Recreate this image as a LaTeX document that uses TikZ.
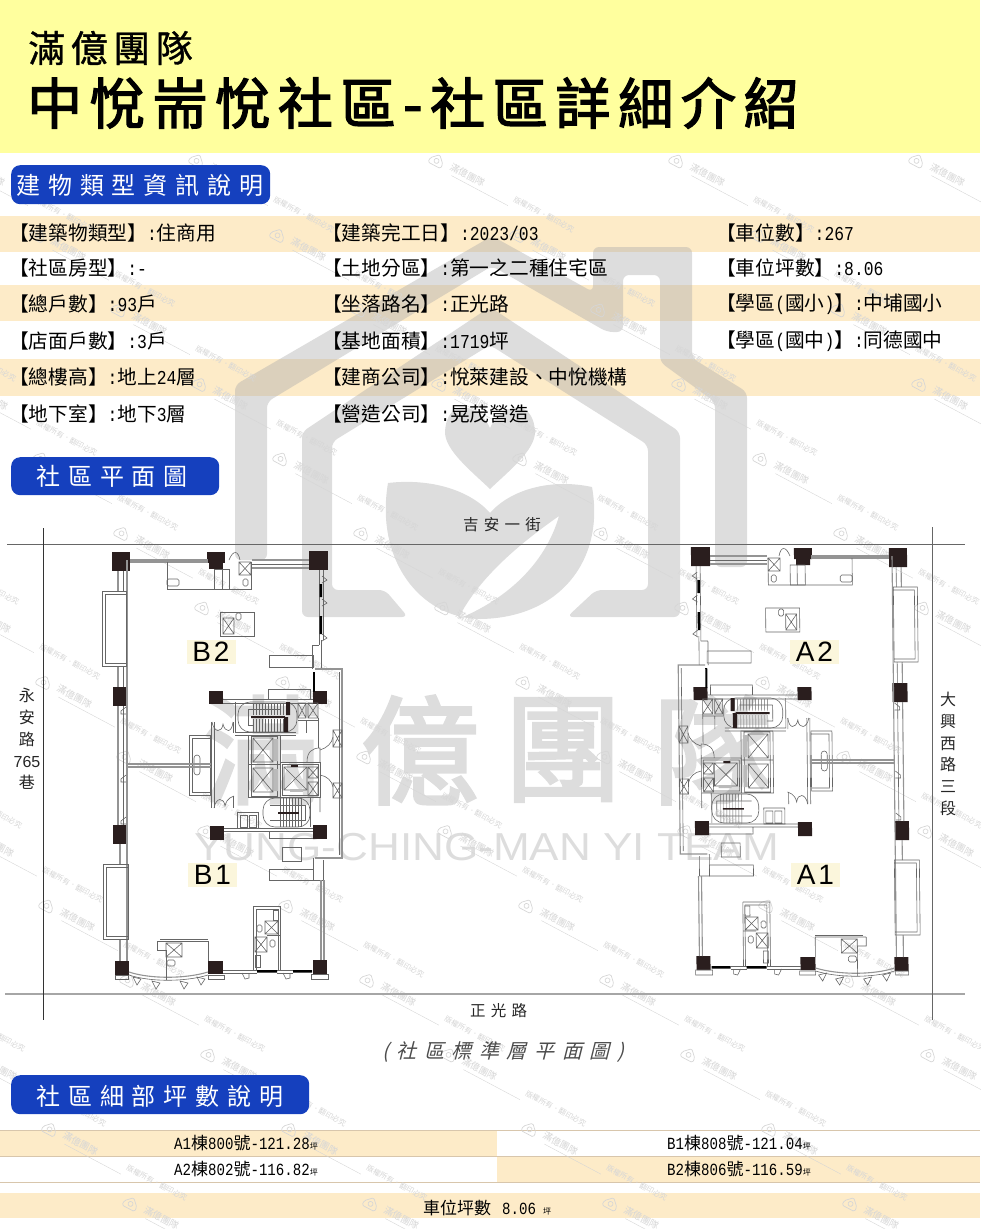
\documentclass[tikz,border=0pt]{standalone}
\usepackage{fontspec}
\setmainfont{Noto Sans CJK TC}
\newfontfamily\cjk{Noto Sans CJK TC}
\newfontfamily\lat[FakeStretch=0.83]{Liberation Mono}
\newfontfamily\arial{Liberation Sans}
\newfontfamily\widearial[FakeStretch=1.13]{Liberation Sans}
\usetikzlibrary{positioning}

\definecolor{headyellow}{HTML}{FFFF9E}
\definecolor{rowbeige}{HTML}{FDEBC8}
\definecolor{pillblue}{HTML}{1540BE}
\definecolor{tagcream}{HTML}{FBF6DC}
\definecolor{ruleline}{HTML}{D8C6AC}
\definecolor{logogray}{gray}{0.68}
\definecolor{markgray}{gray}{0.865}
\definecolor{wmgray}{gray}{0.84}
\definecolor{planline}{HTML}{666666}
\definecolor{pillarfill}{HTML}{2A1E1E}

\newcommand{\fsz}[1]{\fontsize{#1}{#1}\selectfont}
\newcommand{\lsp}[1]{\addfontfeature{LetterSpace=#1}}
\newcommand{\m}[1]{{\lat #1}}

\tikzset{
  info/.style={anchor=west,inner sep=0pt,font=\fsz{19.7}},
  sized/.style={anchor=west,inner sep=0pt,font=\fsz{17}},
  pill/.style={anchor=north west,fill=pillblue,rounded corners=9pt,inner sep=0pt},
  pilltext/.style={anchor=west,inner sep=0pt,text=white,font=\fsz{24}\lsp{33}},
  roadtext/.style={anchor=west,inner sep=0pt,text=black!85,font=\fsz{15.5}\lsp{34}},
  roadstack/.style={inner sep=0pt,align=center,text=black!85,font=\fontsize{16}{21.8}\selectfont},
  tag/.style={fill=tagcream,minimum width=49pt,minimum height=24pt,inner sep=0pt,font=\arial\fsz{28}\lsp{10}},
  wall/.style={draw=planline,line width=0.6pt},
  wallg/.style={draw=planline!70,line width=1.1pt},
  bigmark/.style={inner sep=0pt,text=markgray},
  wmtext/.style={inner sep=0pt,text=wmgray,transform shape}
}

% small parts of the plan
\newcommand{\pillar}[4]{\fill[pillarfill] (#1,#2) rectangle (#3,#4);}
\newcommand{\crossbox}[4]{\draw[wall] (#1,#2) rectangle (#3,#4) (#1,#2) -- (#3,#4) (#1,#4) -- (#3,#2);}
\newcommand{\loo}[2]{\draw[wall,rounded corners=1.5pt] (#1,#2) rectangle ++(5,7);}
\newcommand{\doorh}[2]{\draw[wall] (#1,#2) -- ++(3,6) -- ++(4,-1) -- ++(0,-5);}

\newcommand{\floorplan}{
  % pillars
  \pillar{112}{552}{130}{571} \pillar{207}{552}{225}{563} \pillar{209}{563}{223}{569}
  \pillar{309}{551}{328}{570} \pillar{113}{687}{128}{706} \pillar{209}{691}{223}{704}
  \pillar{313}{691}{327}{704} \pillar{113}{825}{127}{844} \pillar{210}{826}{224}{840}
  \pillar{313}{825}{327}{839} \pillar{115}{961}{129}{975} \pillar{208}{961}{223}{974}
  \pillar{313}{960}{327}{974}
  % outer walls
  \draw[wallg] (127,560) -- (127,961);
  \draw[wallg] (118,571) -- (118,591) (118,666) -- (118,687) (118,706) -- (118,825) (120,844) -- (120,864) (120,939) -- (120,961);
  \draw[wall] (123,571) -- (123,591) (123,666) -- (123,687) (123,706) -- (123,825);
  \draw[wallg] (130,560) -- (208,560) (130,562) -- (208,562) (252,560) -- (309,560) (252,568) -- (309,568);
  \draw[wall] (252,564) -- (309,564);
  \draw[wall] (102,591) rectangle (126,666) (105,594) rectangle (126,663);
  \draw[wall] (103,864) rectangle (128,939) (106,867) rectangle (128,936);
  % top rooms
  \draw[wall] (167,562) -- (167,589) -- (251,589) -- (251,562);
  \draw[wall] (214,569) rectangle (229,589) (222,569) -- (222,589);
  \crossbox{239}{562}{251}{575} \draw[wall,rounded corners=1.5pt] (167,579) rectangle (179,586);
  \loo{243}{579} \draw[wall] (229,560) .. controls (233,550) and (238,550) .. (240,560);
  \draw[wall] (220,612) rectangle (254,636);
  \crossbox{223}{618}{234}{634} \loo{236}{613}
  % right wall with its glass
  \draw[wall] (319,570) -- (319,645) (323,570) -- (323,640);
  \fill[black] (319.5,584) rectangle (322,597) (319.5,616) rectangle (322,634);
  \foreach \dy in {576,599,634} {\draw[wall] (322,\dy) -- (327,{\dy+4}) -- (322,{\dy+7});}
  \draw[wall] (312,645) -- (319,645) (312,645) -- (312,669) (321,640) -- (321,669);
  \fill[black] (313,672) rectangle (315,692);
  \draw[wallg] (315,669) -- (342,669) -- (342,858) -- (315,858);
  \draw[wall] (339,672) -- (339,855);
  \draw[wall] (269,655) rectangle (313,667) (269,869) rectangle (313,880);
  \draw[wall] (313,858) -- (313,880) (323,860) -- (323,880) (313,880) -- (323,880);
  \draw[wallg] (321,880) -- (321,960) (324,880) -- (324,960);
  % beams between pillars
  \draw[wall] (223,699) -- (313,699) (223,703) -- (313,703) (268,699) -- (268,689) -- (310,689) -- (310,699);
  \draw[wall] (224,828) -- (313,828) (224,831) -- (313,831) (269,831) -- (269,838) -- (313,838);
  \draw[wall] (282,847) rectangle (301,861);
  % upper stair
  \draw[wall,rounded corners=12pt] (238,702) rectangle (297,732);
  \draw[wall] (235,702) -- (235,732) -- (296,732) (235,735) -- (296,735);
  \draw[wall] (248,709) -- (281,709) (248,709) -- (248,725) -- (254,725);
  \foreach \t in {0,...,11} {\draw[wall,line width=0.4pt] ({253+3*\t},703) -- ++(0,12) ({253+3*\t},719) -- ++(0,13);}
  \fill[pillarfill] (251,716) rectangle (285,718) (286,702) rectangle (290,715) (284,717) rectangle (288,732);
  \crossbox{298}{703}{306}{718} \crossbox{308}{703}{318}{718}
  \draw[wall] (298,720) -- (318,720) (306,720) -- (306,733) (318,718) -- (318,748);
  % lifts
  \draw[wall] (248,735) rectangle (280,797) (251,736) rectangle (277,796) (248,764) -- (280,764);
  \crossbox{253}{738}{273}{762} \crossbox{253}{768}{273}{792}
  \fill[planline!45] (274,739) rectangle (278,761) (274,769) rectangle (278,791);
  \draw[wall] (280,762) rectangle (320,797) (282,764) rectangle (318,795);
  \crossbox{284}{767}{307}{790} \crossbox{308}{767}{318}{778} \crossbox{308}{782}{318}{796}
  \fill[pillarfill] (291,765) rectangle (298,767);
  \fill[planline!45] (290,789) rectangle (303,792);
  \draw[wall] (307,762) .. controls (307,752) and (312,748) .. (320,748) -- (320,762);
  \draw[wall] (320,797) -- (320,812) (320,775) .. controls (327,776) and (332,781) .. (333,787);
  \draw[wall] (320,750) .. controls (327,748) and (332,743) .. (333,737);
  \crossbox{333}{730}{342}{747} \crossbox{333}{783}{342}{798}
  % lobby doors and toilet room
  \draw[wall] (211,722) -- (211,808) (214,722) -- (214,808) (233,722) -- (233,733) (233,796) -- (233,808);
  \draw[wall] (212,722) .. controls (214,733) and (222,733) .. (223,724) .. controls (225,733) and (232,733) .. (233,722);
  \draw[wall] (214,808) .. controls (216,797) and (224,797) .. (225,806) .. controls (227,797) and (233,797) .. (234,796);
  \draw[wall] (189,735) rectangle (210,795) (192,738) rectangle (210,792);
  \draw[wall,rounded corners=3pt] (194,755) rectangle (200,775);
  \draw[wallg] (127,764) -- (211,764) (127,767) -- (211,767);
  % lower stair
  \draw[wall,rounded corners=12pt] (263,798) rectangle (310,827);
  \draw[wall] (310,797) -- (310,827) (270,805) -- (305,805) -- (305,820) -- (270,820);
  \foreach \t in {0,...,7} {\draw[wall,line width=0.4pt] ({280+3*\t},798) -- ++(0,29);}
  \fill[pillarfill] (278,812) rectangle (299,813.5);
  \draw[wall] (237,812) rectangle (258,828) (240,815) rectangle (247,827) (249,815) rectangle (256,827);
  % bottom wall, doors and curved glass
  \draw[wall] (223,970) -- (257,970) (223,973) -- (257,973) (277,970) -- (293,970) (277,973) -- (293,973);
  \fill[black] (257,970) rectangle (277,972.5) (293,970) rectangle (312,972.5);
  \doorh{242}{973} \doorh{283}{973}
  \draw[wall] (115,975) rectangle (128,979) (208,975) rectangle (224,979) (311,974) rectangle (328,979);
  \draw[wallg] (129,972) .. controls (150,979) and (185,979) .. (208,972);
  \draw[wall] (129,975) .. controls (150,982) and (185,982) .. (208,975);
  \foreach \gx/\gy in {133/977,152/981,180/981,197/977} {\draw[wall] (\gx,\gy) -- ++(8,2) -- ++(-4,6) -- cycle;}
  \draw[wall] (157,941) -- (208,941) -- (208,961) (157,941) -- (157,950) -- (166,950) -- (166,980);
  \draw[wall] (160,939) -- (208,939);
  \crossbox{166}{943}{182}{957} \draw[wall,rounded corners=1.5pt] (167,960) rectangle (175,966);
  % toilet block
  \draw[wall] (253,906) -- (253,970) (280,906) -- (280,970) (253,906) -- (280,906) (256,909) -- (278,909) (256,909) -- (256,970) (278,909) -- (278,970);
  \crossbox{265}{921}{278}{934} \crossbox{255}{937}{267}{952}
  \draw[wall] (273,910) rectangle (278,920) (255,955) rectangle (260,967) (267,935) -- (280,935);
  \loo{257}{925} \loo{270}{940}
  % little doors of the left wall
  \foreach \dy in {707,775,817} {\draw[wall] (126,\dy) -- (121,{\dy+4}) -- (121,{\dy+7}) -- (126,{\dy+7});}
}

\begin{document}
\begin{tikzpicture}[x=1pt,y=-1pt]
  \useasboundingbox (0,0) rectangle (980,1229);

  % rows
  \foreach \ya/\yb in {216/252,285/321,359/396} {\fill[rowbeige] (0,\ya) rectangle (980,\yb);}
  \fill[rowbeige] (0,1131) rectangle (497,1156);
  \fill[rowbeige] (497,1157) rectangle (980,1182);
  \fill[rowbeige] (0,1193) rectangle (980,1218);
  \draw[ruleline] (0,1130.5) -- (980,1130.5) (0,1156.5) -- (980,1156.5) (0,1182.5) -- (980,1182.5);

  % big logo behind the sheet
  \fill[logogray,opacity=0.42,rounded corners=6pt] (235,560) -- (235,385) -- (492,236) -- (593,292) -- (593,247) -- (692,247) -- (692,358) -- (747,392) -- (747,567) -- (715,567) -- (715,402) -- (660,362) -- (660,275) -- (623,275) -- (623,332) -- (607,332) -- (492,266) -- (267,402) -- (267,560) -- cycle;
  \fill[logogray,opacity=0.42,rounded corners=6pt] (302,617) -- (302,432) -- (490,307) -- (680,432) -- (680,617) -- (567,617) -- (596,590) -- (648,590) -- (648,445) -- (490,345) -- (332,442) -- (332,590) -- (385,590) -- (408,617) -- cycle;
  \fill[logogray,opacity=0.42] (490,428) .. controls (480,405) and (447,395) .. (445,432) .. controls (445,450) and (470,470) .. (490,489) .. controls (510,470) and (535,450) .. (535,432) .. controls (533,395) and (500,405) .. (490,428) -- cycle;
  \fill[logogray,opacity=0.42,even odd rule] (388,483) .. controls (430,478) and (470,490) .. (490,513) .. controls (510,490) and (550,478) .. (592,487) .. controls (605,560) and (560,618) .. (480,619) .. controls (420,618) and (375,560) .. (388,483) -- cycle (559,516) .. controls (525,540) and (480,575) .. (458,619) .. controls (505,600) and (545,565) .. (559,516) -- cycle;
  \node[bigmark,font=\fsz{118}\addfontfeature{FakeBold=2.5}] (mark1) at (262,750) {滿};
  \node[bigmark,font=\fsz{118}\addfontfeature{FakeBold=2.5}] (mark2) at (420,750) {億};
  \node[bigmark,font=\fsz{118}\addfontfeature{FakeBold=2.5}] (mark3) at (563,750) {團};
  \node[bigmark,font=\fsz{118}\addfontfeature{FakeBold=2.5}] (mark4) at (712,750) {隊};
  \node[bigmark,font=\widearial\fsz{39}] (markline) at (487,847) {YUNG-CHING-MAN YI TEAM};

  % small stamps over the sheet
  \foreach \k in {0,...,14} {
    \foreach \i in {-1,...,4} {
      \pgfmathsetmacro{\wx}{mod(116+81*(\k+1),240)+240*\i}
      \pgfmathsetmacro{\wy}{160+74.5*\k}
      \pgfmathparse{(\wx>-140 && \wx<975) ? 1 : 0}
      \ifnum\pgfmathresult=1
      \begin{scope}[shift={(\wx,\wy)},rotate=-28]
        \draw[wmgray,line width=0.7pt,rounded corners=1.5pt] (-7,1) -- (0,-6) -- (7,1) -- (7,6) -- (-7,6) -- cycle;
        \draw[wmgray,line width=0.7pt] (0,1) circle (2.5);
        \node[wmtext,font=\fsz{9.5}] (name\k x\i) at (34,-1) {滿億團隊};
        \draw[wmgray,line width=0.4pt] (20,7) -- (84,7);
        \node[wmtext,font=\fsz{7.5}] (tail\k x\i) at (120,-2) {版權所有．翻印必究};
      \end{scope}
      \fi
    }
  }

  % header
  \fill[headyellow] (0,0) rectangle (980,153);
  \node[anchor=west,inner sep=0pt,font=\fsz{37}\lsp{15}\addfontfeature{FakeBold=1}] (brand) at (28,48) {滿億團隊};
  \node[anchor=west,inner sep=0pt,font=\fsz{55}\lsp{14}\addfontfeature{FakeBold=2.5}] (title) at (27,103) {中悅耑悅社區-社區詳細介紹};

  % section pills
  \node[pill,minimum width=259pt,minimum height=39pt] (sec1) at (11,165) {};
  \node[pilltext] (sec1t) at (16,185) {建物類型資訊說明};
  \node[pill,minimum width=208pt,minimum height=38pt] (sec2) at (11,457) {};
  \node[pilltext] (sec2t) at (36,476) {社區平面圖};
  \node[pill,minimum width=298pt,minimum height=39pt] (sec3) at (11,1075) {};
  \node[pilltext] (sec3t) at (36,1096) {社區細部坪數說明};

  % building data
  \node[info] (r1a) at (9,233) {【建築物類型】\m{:}住商用};
  \node[info] (r2a) at (9,268) {【社區房型】\m{:-}};
  \node[info] (r3a) at (9,304) {【總戶數】\m{:93}戶};
  \node[info] (r4a) at (9,341) {【店面戶數】\m{:3}戶};
  \node[info] (r5a) at (9,377) {【總樓高】\m{:}地上\m{24}層};
  \node[info] (r6a) at (9,414) {【地下室】\m{:}地下\m{3}層};
  \node[info] (r1b) at (322,233) {【建築完工日】\m{:2023/03}};
  \node[info] (r2b) at (322,268) {【土地分區】\m{:}第一之二種住宅區};
  \node[info] (r3b) at (322,304) {【坐落路名】\m{:}正光路};
  \node[info] (r4b) at (322,341) {【基地面積】\m{:1719}坪};
  \node[info] (r5b) at (322,377) {【建商公司】\m{:}悅萊建設、中悅機構};
  \node[info] (r6b) at (322,414) {【營造公司】\m{:}晃茂營造};
  \node[info] (r1c) at (716,233) {【車位數】\m{:267}};
  \node[info] (r2c) at (716,268) {【車位坪數】\m{:8.06}};
  \node[info] (r3c) at (716,304) {【學區\m{(}國小\m{)}】\m{:}中埔國小};
  \node[info] (r4c) at (716,341) {【學區\m{(}國中\m{)}】\m{:}同德國中};

  % roads
  \draw[planline,line width=0.7pt] (7,544) -- (965,544);
  \draw[black!35,line width=1.3pt] (5,994) -- (965,994);
  \draw[black!80,line width=0.7pt] (43,528) -- (43,1020);
  \draw[planline,line width=0.7pt] (932,527) -- (932,1020);
  \node[roadtext] (roadtop) at (463,525) {吉安一街};
  \node[roadtext] (roadbot) at (470,1011) {正光路};
  \node[roadstack] (roadleft) at (27,739) {永\\安\\路\\{\arial 765}\\巷};
  \node[roadstack] (roadright) at (948,754) {大\\興\\西\\路\\三\\段};

  % plans, the second one is the first turned over
  \begin{scope}
    \floorplan
  \end{scope}
  \begin{scope}[shift={(1012.84,-4)},xscale=-1,xslant=0.011]
    \floorplan
  \end{scope}
  \node[tag] (b2) at (211,651.5) {B2};
  \node[tag] (b1) at (212.5,875) {B1};
  \node[tag] (a2) at (814.5,651.5) {A2};
  \node[tag] (a1) at (815.5,875) {A1};

  \node[anchor=west,inner sep=0pt,text=black!70,font=\fsz{20}\addfontfeature{FakeSlant=0.25}\lsp{38}] (plancap) at (382,1052) {(社區標準層平面圖)};

  % areas
  \node[sized] (a1area) at (174,1143) {\m{A1}棟\m{800}號\m{-121.28}{\fsz{8}坪}};
  \node[sized] (a2area) at (174,1169) {\m{A2}棟\m{802}號\m{-116.82}{\fsz{8}坪}};
  \node[sized] (b1area) at (667,1143) {\m{B1}棟\m{808}號\m{-121.04}{\fsz{8}坪}};
  \node[sized] (b2area) at (667,1169) {\m{B2}棟\m{806}號\m{-116.59}{\fsz{8}坪}};
  \node[sized] (parkarea) at (423,1208) {車位坪數\hspace{11pt}\m{8.06}\hspace{7pt}{\fsz{8}坪}};
\end{tikzpicture}
\end{document}
